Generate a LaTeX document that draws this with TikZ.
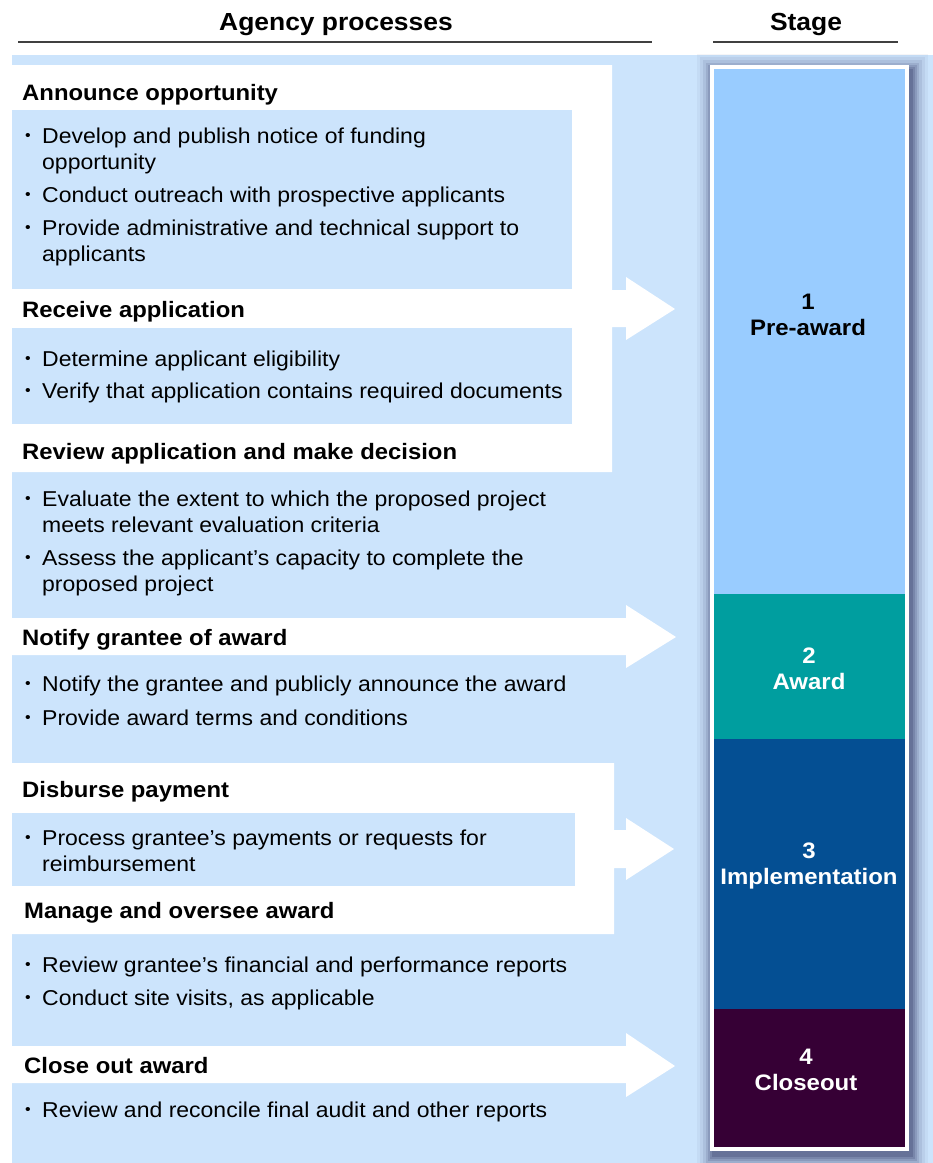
\documentclass[tikz,border=0pt]{standalone}
\usepackage{fontspec}
\setmainfont{Liberation Sans}[FakeStretch=1.07]
\newcommand{\twoline}[2]{\begin{tabular}[t]{@{}l@{}}#1\\#2\end{tabular}}
\begin{document}
\begin{tikzpicture}[x=1pt,y=-1pt,
  hdr/.style={anchor=base west,inner sep=0pt,font=\fontsize{22.3}{26}\selectfont\bfseries},
  txt/.style={anchor=base west,inner sep=0pt,font=\fontsize{21.5}{26}\selectfont},
  dot/.style={anchor=base,inner sep=0pt,font=\fontsize{15}{18}\selectfont},
  ttl/.style={anchor=base,inner sep=0pt,font=\fontsize{24.7}{28}\selectfont\bfseries},
  stg/.style={anchor=center,inner sep=0pt,font=\fontsize{22.4}{26.5}\selectfont\bfseries,align=center},
  rule/.style={draw=black!75,line width=1.2pt}]
\definecolor{bgblue}{RGB}{204,228,252}
\definecolor{preaw}{RGB}{153,204,255}
\definecolor{awteal}{RGB}{0,158,159}
\definecolor{impl}{RGB}{4,79,147}
\definecolor{clos}{RGB}{54,0,53}
\useasboundingbox (0,0) rectangle (933,1163);
\fill[white] (0,0) rectangle (933,1163);
% titles
\node[ttl] (tA) at (336,30) {Agency processes};
\node[ttl] (tS) at (806,30) {Stage};
\draw[rule] (18,42) -- (652,42);
\draw[rule] (713,42) -- (898,42);
% background
\fill[bgblue] (12,55) rectangle (933,1163);
% white panels with arrows
\fill[white] (12,65) -- (612,65) -- (612,290) -- (626,290) -- (626,277) -- (675,309) -- (626,340) -- (626,327) -- (612,327) -- (612,472) -- (12,472) -- cycle;
\fill[white] (12,618) -- (626,618) -- (626,605) -- (676,637) -- (626,668) -- (626,655) -- (12,655) -- cycle;
\fill[white] (12,763) -- (614,763) -- (614,830) -- (626,830) -- (626,818) -- (674,849) -- (626,880) -- (626,868) -- (614,868) -- (614,934) -- (12,934) -- cycle;
\fill[white] (12,1046) -- (626,1046) -- (626,1033) -- (675,1066) -- (626,1097) -- (626,1083) -- (12,1083) -- cycle;
% bullet boxes
\fill[bgblue] (12,110) rectangle (572,289);
\fill[bgblue] (12,328) rectangle (572,424);
\fill[bgblue] (12,813) rectangle (575,886);
% stage column shadow
\foreach \d/\o in {16/0.04,13/0.05,10/0.07,7/0.09,5/0.11,3/0.13,1/0.15}{
  \fill[black!80!blue,opacity=\o] (710-\d+3,65-\d+5) rectangle (909+\d+3,1151+\d+5);
}
\fill[white] (710,65) rectangle (909,1151);
\fill[preaw] (714,69) rectangle (905,594);
\fill[awteal] (714,594) rectangle (905,739);
\fill[impl] (714,739) rectangle (905,1009);
\fill[clos] (714,1009) rectangle (905,1147);
\node[stg] (s1) at (808,315) {1\\Pre-award};
\node[stg,white] (s2) at (809,669) {2\\Award};
\node[stg,white] (s3) at (809,866) {3\\Implementation};
\node[stg,white] (s4) at (806,1070) {4\\Closeout};
% group 1
\node[hdr] (h1) at (22,100) {Announce opportunity};
\node[dot] (d11) at (28,140) {•};
\node[txt] (b11) at (42,143) {\twoline{Develop and publish notice of funding}{opportunity}};
\node[dot] (d12) at (28,199) {•};
\node[txt] (b12) at (42,202) {Conduct outreach with prospective applicants};
\node[dot] (d13) at (28,232) {•};
\node[txt] (b13) at (42,235) {\twoline{Provide administrative and technical support to}{applicants}};
\node[hdr] (h2) at (22,317) {Receive application};
\node[dot] (d21) at (28,363) {•};
\node[txt] (b21) at (42,366) {Determine applicant eligibility};
\node[dot] (d22) at (28,395) {•};
\node[txt] (b22) at (42,398) {Verify that application contains required documents};
\node[hdr] (h3) at (22,459) {Review application and make decision};
\node[dot] (d31) at (28,503) {•};
\node[txt] (b31) at (42,506) {\twoline{Evaluate the extent to which the proposed project}{meets relevant evaluation criteria}};
\node[dot] (d32) at (28,562) {•};
\node[txt] (b32) at (42,565) {\twoline{Assess the applicant’s capacity to complete the}{proposed project}};
% group 2
\node[hdr] (h4) at (22,645) {Notify grantee of award};
\node[dot] (d41) at (28,688) {•};
\node[txt] (b41) at (42,691) {Notify the grantee and publicly announce the award};
\node[dot] (d42) at (28,722) {•};
\node[txt] (b42) at (42,725) {Provide award terms and conditions};
% group 3
\node[hdr] (h5) at (22,797) {Disburse payment};
\node[dot] (d51) at (28,842) {•};
\node[txt] (b51) at (42,845) {\twoline{Process grantee’s payments or requests for}{reimbursement}};
\node[hdr] (h6) at (24,918) {Manage and oversee award};
\node[dot] (d61) at (28,969) {•};
\node[txt] (b61) at (42,972) {Review grantee’s financial and performance reports};
\node[dot] (d62) at (28,1002) {•};
\node[txt] (b62) at (42,1005) {Conduct site visits, as applicable};
% group 4
\node[hdr] (h7) at (24,1073) {Close out award};
\node[dot] (d71) at (28,1114) {•};
\node[txt] (b71) at (42,1117) {Review and reconcile final audit and other reports};
\end{tikzpicture}
\end{document}
